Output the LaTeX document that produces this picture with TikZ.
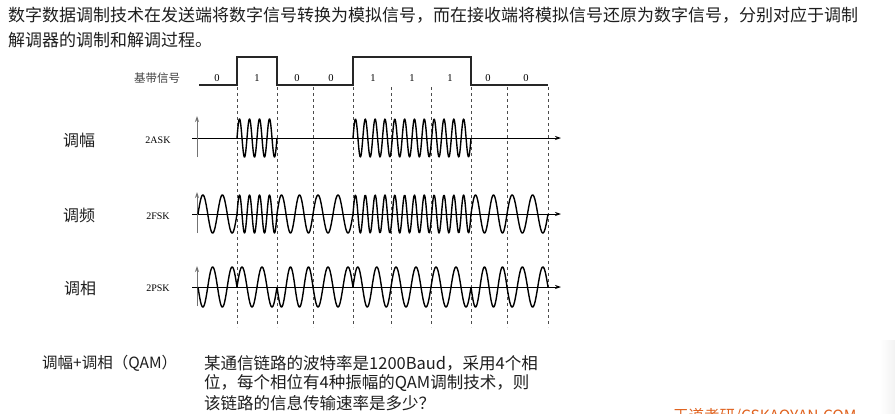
\documentclass[tikz,border=0pt]{standalone}
\usepackage{fontspec}
\setmainfont{Liberation Serif}
\newfontfamily\cjk{Noto Sans CJK SC}
\usetikzlibrary{arrows.meta}
\definecolor{txt}{HTML}{1E1E1E}
\definecolor{wm}{HTML}{E0621E}
\begin{document}
\begin{tikzpicture}[x=1pt,y=-1pt,
  para/.style={font=\cjk\fontsize{17}{20}\selectfont, text=txt, anchor=west, inner sep=0pt},
  qtext/.style={font=\cjk\fontsize{16.5}{20}\selectfont, text=txt, anchor=west, inner sep=0pt},
  modname/.style={font=\cjk\fontsize{16}{20}\selectfont, text=txt, inner sep=0pt},
  kind/.style={font=\fontsize{10}{12}\selectfont, inner sep=0pt},
  bitlabel/.style={font=\fontsize{10.5}{12}\selectfont, inner sep=0pt},
  axisline/.style={line width=0.8pt, -{Stealth[length=6pt,width=4pt]}},
  yarrow/.style={line width=0.9pt, black!55, -{Stealth[length=6pt,width=4pt]}},
  wave/.style={line width=1.4pt, line join=round},
  guide/.style={dash pattern=on 3pt off 3pt, line width=0.7pt, black!70},
  base/.style={line width=1.3pt, black!85, line join=miter}]
\useasboundingbox (0,0) rectangle (895,413);
\clip (0,0) rectangle (895,413);
\fill[white] (0,0) rectangle (895,413);
\shade[left color=white, right color=black!5] (880,340) rectangle (895,413);

% top paragraph
\node[para] (p1) at (8,15) {数字数据调制技术在发送端将数字信号转换为模拟信号，而在接收端将模拟信号还原为数字信号，分别对应于调制};
\node[para] (p2) at (8,40) {解调器的调制和解调过程。};

% baseband
\node[font=\cjk\fontsize{11.5}{13}\selectfont, text=black!75, inner sep=0pt] (bb) at (157,78) {基带信号};
\coordinate (b0) at (199,85);
\draw[base] (b0) -- (237,85) -- (237,57) -- (277,57) -- (277,85) -- (353,85) -- (353,57) -- (471,57) -- (471,85) -- (548,85);
\foreach \xx/\bit in {217/0,257/1,297/0,331/0,373/1,412/1,450/1,488/0,526/0}
  \node[bitlabel] (bit\xx) at (\xx,78) {\bit};

% guides
\foreach \gx in {237,277,313,353,391,431,471,507,548}
  \draw[guide] (\gx,87) -- (\gx,327);

% labels
\node[modname] (m1) at (79,140) {调幅};
\node[modname] (m2) at (79,215) {调频};
\node[modname] (m3) at (80,288) {调相};
\node[kind] (k1) at (158,140) {2ASK};
\node[kind] (k2) at (158,216) {2FSK};
\node[kind] (k3) at (158,288) {2PSK};

% axes
\coordinate (a1s) at (192,138); \coordinate (a1e) at (561,138);
\coordinate (a2s) at (192,214); \coordinate (a2e) at (561,214);
\coordinate (a3s) at (192,287); \coordinate (a3e) at (561,287);
\coordinate (v1s) at (197,157); \coordinate (v1e) at (197,116);
\coordinate (v2s) at (197,233); \coordinate (v2e) at (197,192);
\coordinate (v3s) at (197,306); \coordinate (v3e) at (197,266);
\draw[axisline] (a1s) -- (a1e);
\draw[axisline] (a2s) -- (a2e);
\draw[axisline] (a3s) -- (a3e);
\draw[yarrow] (v1s) -- (v1e);
\draw[yarrow] (v2s) -- (v2e);
\draw[yarrow] (v3s) -- (v3e);

% 2ASK
\foreach \a/\b/\n in {237/277/4,353/471/12}
  \draw[wave] plot[variable=\t, domain=\a:\b, samples=220, smooth] (\t, {138 - 19*sin(360*\n*((\t-\a)/(\b-\a)))});

% 2FSK
\foreach \a/\b/\n in {198/237/2,237/277/4,277/313/2,313/353/2,353/471/12,471/507/2,507/548/2}
  \draw[wave] plot[variable=\t, domain=\a:\b, samples=160, smooth] (\t, {214 - 19*sin(360*\n*((\t-\a)/(\b-\a)))});

% 2PSK
\foreach \a/\b/\s in {198/237/-1,237/277/1,277/313/-1,313/353/-1,353/391/1,391/431/1,431/471/1,471/507/-1,507/548/-1}
  \draw[wave] plot[variable=\t, domain=\a:\b, samples=100, smooth] (\t, {287 - 20*\s*sin(720*((\t-\a)/(\b-\a)))});

% bottom
\node[qtext, font=\cjk\fontsize{15.5}{20}\selectfont] (qam) at (42,363) {调幅+调相（QAM）};
\node[qtext] (q1) at (204,363) {某通信链路的波特率是1200Baud，采用4个相};
\node[qtext] (q2) at (204,383.5) {位，每个相位有4种振幅的QAM调制技术，则};
\node[qtext] (q3) at (204,403.5) {该链路的信息传输速率是多少？};
\node[font=\cjk\fontsize{15.5}{17}\selectfont, text=wm, anchor=west, inner sep=0pt] (wmark) at (673,416) {王道考研/CSKAOYAN.COM};
\end{tikzpicture}
\end{document}
